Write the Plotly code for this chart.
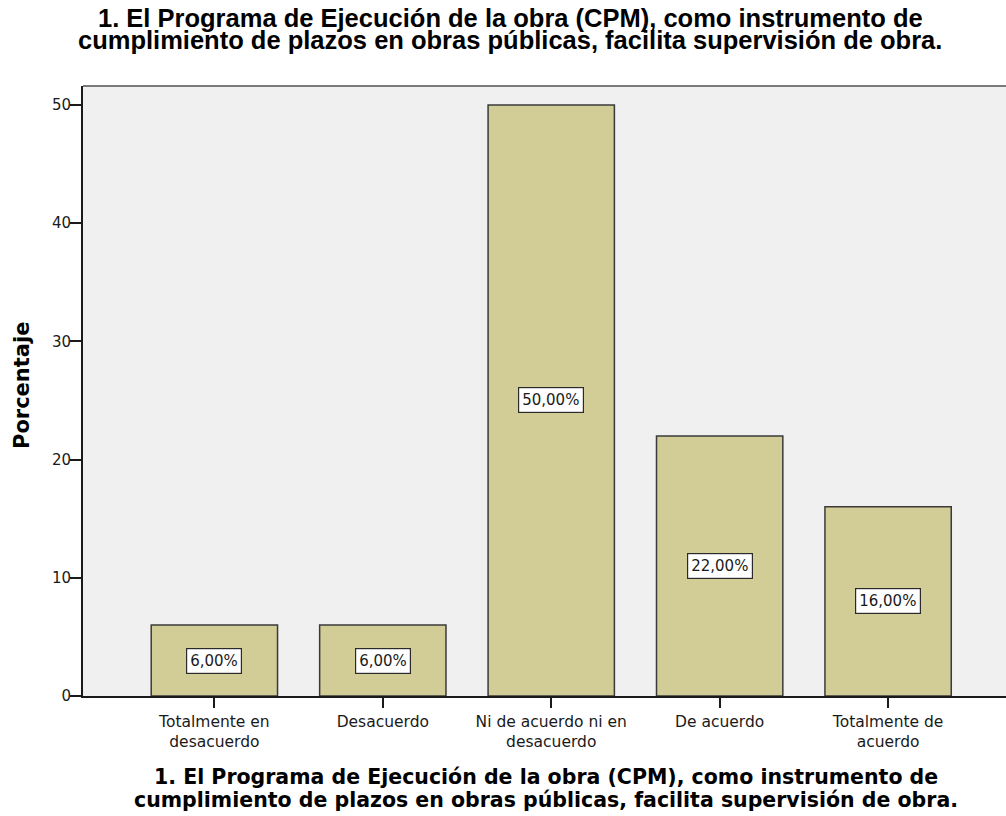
import plotly.graph_objects as go

categories = ["Totalmente en<br>desacuerdo", "Desacuerdo", "Ni de acuerdo ni en<br>desacuerdo", "De acuerdo", "Totalmente de<br>acuerdo"]
values = [6.0, 6.0, 50.0, 22.0, 16.0]
labels = ["6,00%", "6,00%", "50,00%", "22,00%", "16,00%"]
y_ticks = [0, 10, 20, 30, 40, 50]
title_lines = ["1. El Programa de Ejecución de la obra (CPM), como instrumento de",
               "cumplimiento de plazos en obras públicas, facilita supervisión de obra."]
y_title = "Porcentaje"

# layout geometry (pixels)
W, H = 1006, 816
L, R, T, B = 83, 0, 86, 120
PW, PH = W - L - R, H - T - B

def px_x(x):
    return (x - L) / PW

def px_y(y):
    return (H - B - y) / PH

x_idx = list(range(len(categories)))
small = dict(family="DejaVu Sans, Verdana", size=15, color="#1a1a1a")

fig = go.Figure()
fig.add_trace(go.Bar(
    x=x_idx, y=values, width=0.75,
    marker=dict(color="#D2CD97", line=dict(color="#3a3a3a", width=1.5)),
    hoverinfo="skip",
))

for i, (v, lab) in enumerate(zip(values, labels)):
    fig.add_annotation(
        x=i, y=v / 2, text=lab, showarrow=False, font=small,
        bgcolor="white", bordercolor="#2a2a2a", borderwidth=1.2, borderpad=3,
    )

# top title (two lines placed separately for tight leading)
for txt, ypx in zip(title_lines, [18, 40]):
    fig.add_annotation(
        xref="paper", yref="paper", x=px_x(510), y=px_y(ypx), text=txt,
        showarrow=False, xanchor="center", yanchor="middle",
        font=dict(family="Liberation Sans, Arial", size=25.5, color="black", weight="bold"),
    )

# x axis title
for txt, ypx in zip(title_lines, [777, 800]):
    fig.add_annotation(
        xref="paper", yref="paper", x=px_x(546), y=px_y(ypx), text=txt,
        showarrow=False, xanchor="center", yanchor="middle",
        font=dict(family="DejaVu Sans, Verdana", size=20.5, color="black", weight="bold"),
    )

# y axis title
fig.add_annotation(
    xref="paper", yref="paper", x=px_x(22), y=px_y(386), text=y_title,
    showarrow=False, textangle=-90, xanchor="center", yanchor="middle",
    font=dict(family="DejaVu Sans, Verdana", size=21, color="black", weight="bold"),
)

# top frame line of plot area
fig.add_shape(type="line", xref="paper", yref="paper", x0=0, x1=1, y0=1, y1=1,
              line=dict(color="#7a7a7a", width=2))

fig.update_layout(
    width=W, height=H,
    margin=dict(l=L, r=R, t=T, b=B, autoexpand=False),
    paper_bgcolor="white", plot_bgcolor="#F0F0F0",
    showlegend=False,
    xaxis=dict(
        range=[-0.78, 4.70], tickmode="array", tickvals=x_idx, ticktext=categories,
        ticks="outside", ticklen=10, tickcolor="#1a1a1a", tickwidth=1.5,
        showline=True, linecolor="#1a1a1a", linewidth=2, showgrid=False, zeroline=False,
        tickfont=dict(family="DejaVu Sans, Verdana", size=15.5, color="#1a1a1a"),
        automargin=False,
    ),
    yaxis=dict(
        range=[0, 51.6], tickmode="array", tickvals=y_ticks,
        ticks="outside", ticklen=11, tickcolor="#1a1a1a", tickwidth=1.5,
        showline=True, linecolor="#1a1a1a", linewidth=2, showgrid=False, zeroline=False,
        tickfont=small, automargin=False, ticklabelstandoff=-4,
    ),
)

fig.write_html("out.html", config={"displayModeBar": False},
               post_script="document.body.style.margin='0px';")
